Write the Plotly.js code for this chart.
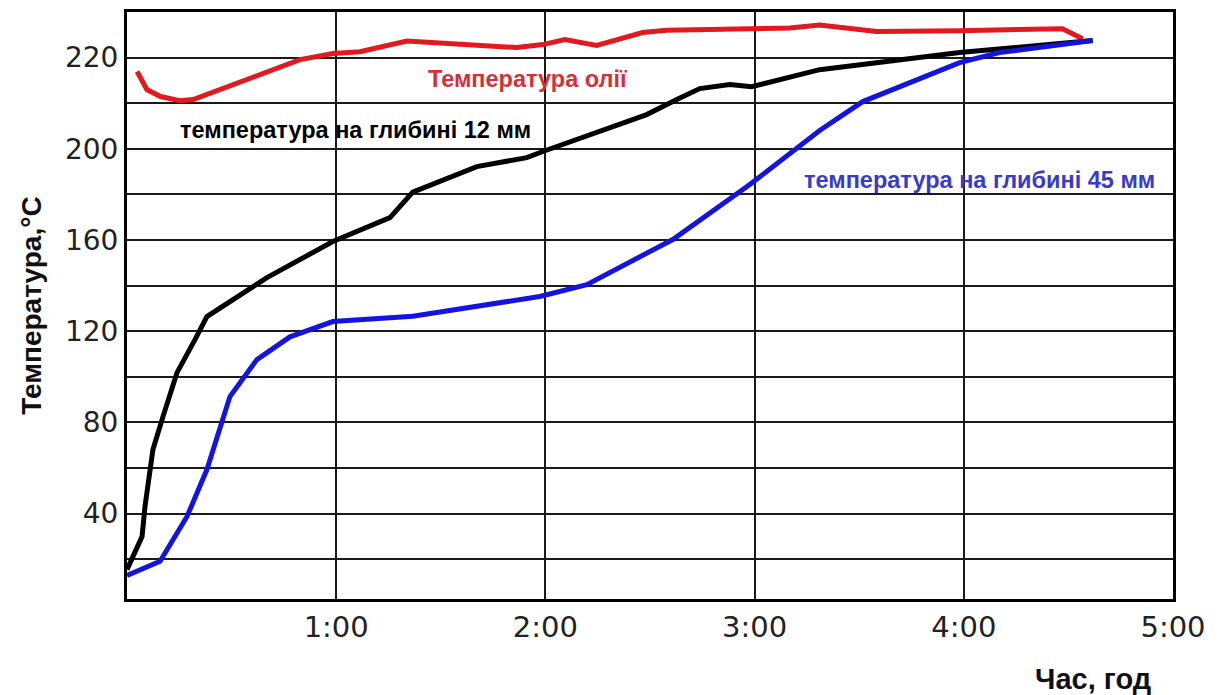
<!DOCTYPE html>
<html>
<head>
<meta charset="utf-8">
<script src="https://cdn.plot.ly/plotly-3.0.1.min.js"></script>
<style>html,body{margin:0;padding:0;background:#fff;}#chart{width:1220px;height:695px;}</style>
</head>
<body>
<div id="chart"></div>
<script>
// time in hours, temperature in axis units
const oilTime = [0.048, 0.095, 0.16, 0.253, 0.316, 0.588, 0.827, 0.985, 1.113, 1.338, 1.863, 1.988, 2.093, 2.245, 2.465, 2.58, 2.986, 3.168, 3.311, 3.583, 3.98, 4.472, 4.568];
const oilTemp = [233.9, 226, 222.9, 221.1, 221.6, 231.2, 239.1, 241.8, 242.6, 247.3, 244.4, 245.7, 247.9, 245.3, 251, 252, 253, 253, 254.3, 251.4, 251.8, 252.7, 248.3];

const depth12Time = [0, 0.072, 0.086, 0.124, 0.172, 0.239, 0.325, 0.382, 0.669, 0.984, 1.257, 1.366, 1.672, 1.911, 1.988, 2.26, 2.484, 2.628, 2.738, 2.881, 2.986, 3.311, 3.98, 4.616];
const depth12Temp = [15.4, 29.9, 43.1, 68.1, 82.5, 101.8, 116.3, 126.4, 143.5, 159.3, 169.8, 181, 192.2, 196.1, 198.8, 207.7, 215, 221.6, 226.4, 228.2, 227.2, 234.7, 242.2, 247.5];

const depth45Time = [0, 0.158, 0.287, 0.382, 0.492, 0.621, 0.779, 0.984, 1.366, 1.973, 2.198, 2.609, 2.977, 3.216, 3.311, 3.517, 3.98, 4.171, 4.616];
const depth45Temp = [12.8, 19, 38.7, 59.3, 91.3, 107.5, 117.5, 124.2, 126.5, 135.2, 140.4, 160.2, 184.3, 201, 208, 220.7, 237.8, 242.2, 247.5];

const xTickVals = [1, 2, 3, 4, 5];
const xTickText = ["1:00", "2:00", "3:00", "4:00", "5:00"];
const yTickVals = [20, 40, 60, 80, 100, 120, 140, 160, 180, 200, 220, 240];
const yTickText = ["", "40", "", "80", "", "120", "", "160", "", "200", "", "220"];

const seriesLabels = ["Температура олії", "температура на глибині 12 мм", "температура на глибині 45 мм"];

const traces = [
  {x: oilTime, y: oilTemp, mode: 'lines', line: {color: '#e01a1e', width: 5}, name: seriesLabels[0]},
  {x: depth12Time, y: depth12Temp, mode: 'lines', line: {color: '#000000', width: 5}, name: seriesLabels[1]},
  {x: depth45Time, y: depth45Temp, mode: 'lines', line: {color: '#1414e0', width: 5}, name: seriesLabels[2]}
];

const narrow = '"Liberation Sans Narrow", "Liberation Sans", Arial, sans-serif';

const layout = {
  width: 1220, height: 695,
  margin: {l: 127, r: 47, t: 12, b: 96},
  paper_bgcolor: '#fff', plot_bgcolor: '#fff',
  showlegend: false,
  xaxis: {
    range: [0, 5], tickvals: xTickVals, ticktext: xTickText,
    showgrid: true, gridcolor: '#1a1a1a', gridwidth: 2,
    showline: true, mirror: true, linecolor: '#000', linewidth: 3,
    zeroline: false, ticks: '', ticklen: 0,
    tickfont: {family: '"DejaVu Sans", Verdana, sans-serif', size: 29, color: '#222'}
  },
  yaxis: {
    range: [2.5, 260], tickvals: yTickVals, ticktext: yTickText,
    showgrid: true, gridcolor: '#1a1a1a', gridwidth: 2,
    showline: true, mirror: true, linecolor: '#000', linewidth: 3,
    zeroline: false, ticks: '', ticklen: 0,
    tickfont: {family: '"DejaVu Sans", Verdana, sans-serif', size: 28, color: '#222'},
    title: {text: '<b>Температура,°C</b>', font: {family: narrow, size: 28, color: '#111'}, standoff: 16}
  },
  annotations: [
    {x: 1.916, y: 230.4, xref: 'x', yref: 'y', text: '<b>' + seriesLabels[0] + '</b>', showarrow: false,
     xanchor: 'center', yanchor: 'middle', font: {family: narrow, size: 23.5, color: '#d4303a'}},
    {x: 1.094, y: 208.4, xref: 'x', yref: 'y', text: '<b>' + seriesLabels[1] + '</b>', showarrow: false,
     xanchor: 'center', yanchor: 'middle', font: {family: narrow, size: 23.5, color: '#000'}},
    {x: 4.075, y: 186.5, xref: 'x', yref: 'y', text: '<b>' + seriesLabels[2] + '</b>', showarrow: false,
     xanchor: 'center', yanchor: 'middle', font: {family: narrow, size: 23.5, color: '#3a3ac8'}},
    {x: 0, y: 0, xref: 'paper', yref: 'paper', text: '<b>Час, год</b>', showarrow: false,
     xanchor: 'center', yanchor: 'middle', font: {family: narrow, size: 29, color: '#111'}}
  ]
};
// place x-axis title (pixel position converted to paper coords)
layout.annotations[3].x = (1093 - 127) / (1220 - 127 - 47);
layout.annotations[3].y = -(679 - 599) / (695 - 12 - 96);

Plotly.newPlot('chart', traces, layout, {displayModeBar: false, staticPlot: true});
</script>
</body>
</html>
